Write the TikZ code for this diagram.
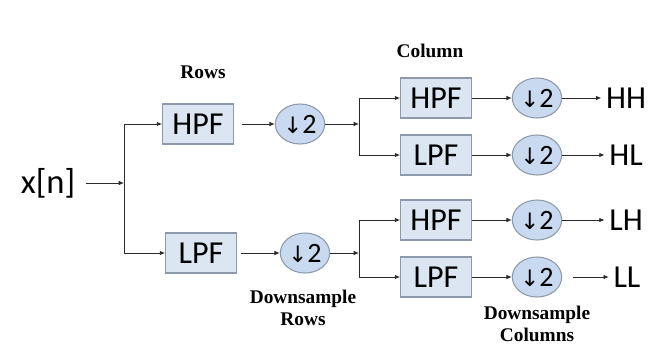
\documentclass[tikz,border=0pt]{standalone}
\usepackage{fontspec}
\setmainfont{Carlito}
\newfontfamily\lblfont{Liberation Serif}
\newfontfamily\symfont{DejaVu Sans}
\usetikzlibrary{shapes.geometric,arrows.meta}
\definecolor{boxfill}{HTML}{DCE6F2}
\definecolor{boxline}{HTML}{8C9AAB}
\definecolor{dsfill}{HTML}{C9DAF0}
\definecolor{wire}{HTML}{2A2A2A}
\newcommand{\dn}{{\symfont\fontsize{17}{17}\selectfont↓}2}
\begin{document}
\begin{tikzpicture}[x=0.75pt, y=-0.75pt, >={Latex[length=4pt,width=3.5pt]},
	filt/.style={draw=boxline, fill=boxfill, line width=0.8pt, minimum width=53pt, minimum height=30pt, inner sep=0pt, font=\fontsize{24}{24}\selectfont},
	ds/.style={ellipse, draw=boxline, fill=dsfill, line width=0.8pt, minimum width=37pt, minimum height=30pt, inner sep=0pt, font=\fontsize{21}{21}\selectfont},
	lbl/.style={font=\lblfont\bfseries\fontsize{14.5}{16}\selectfont, align=center},
	outp/.style={font=\fontsize{24}{24}\selectfont},
	wire/.style={draw=wire, line width=0.7pt}]
	
	\useasboundingbox (0,0) rectangle (649,344);
	
	% input and row filters
	\node[font=\fontsize{26}{26}\selectfont] (xn) at (48,183) {x[n]};
	\coordinate (s1) at (124,183);
	\node[filt] (rH) at (198,124) {HPF};
	\node[filt] (rL) at (201,253) {LPF};
	\node[ds] (rD1) at (300,124) {\dn};
	\node[ds] (rD2) at (305,253) {\dn};
	\node[lbl] (rows) at (203,72) {Rows};
	\node[lbl] (dsrows) at (303,308) {Downsample\\Rows};
	
	% column filters
	\coordinate (s2) at (359,124);
	\coordinate (s3) at (359,253);
	\node[filt] (cH1) at (436,98) {HPF};
	\node[filt] (cL1) at (436,155) {LPF};
	\node[filt] (cH2) at (436,220) {HPF};
	\node[filt] (cL2) at (436,277) {LPF};
	\node[ds] (cD1) at (537,98) {\dn};
	\node[ds] (cD2) at (537,155) {\dn};
	\node[ds] (cD3) at (537,220) {\dn};
	\node[ds] (cD4) at (537,277) {\dn};
	\node[lbl] (col) at (430,51) {Column};
	\node[lbl] (dscol) at (537,324) {Downsample\\Columns};
	
	% outputs
	\node[outp] (HH) at (626,98) {HH};
	\node[outp] (HL) at (626,155) {HL};
	\node[outp] (LH) at (626,220) {LH};
	\node[outp] (LL) at (627,277) {LL};
	
	% connectors
	\draw[wire, ->] (xn.east) ++(6,0) -- (s1);
	\draw[wire, ->] (s1) |- (rH.west);
	\draw[wire, ->] (s1) |- (rL.west);
	\draw[wire, ->] ([xshift=6]rH.east) -- (rD1.west);
	\draw[wire, ->] ([xshift=3]rL.east) -- (rD2.west);
	\draw[wire, ->] (rD1.east) -- (s2);
	\draw[wire, ->] (rD2.east) -- (s3);
	\draw[wire, ->] (s2) |- (cH1.west);
	\draw[wire, ->] (s2) |- (cL1.west);
	\draw[wire, ->] (s3) |- (cH2.west);
	\draw[wire, ->] (s3) |- (cL2.west);
	\foreach \f/\d in {cH1/cD1, cL1/cD2, cH2/cD3, cL2/cD4}
		\draw[wire, ->] (\f.east) -- (\d.west);
	\foreach \d/\o in {cD1/HH, cD2/HL, cD3/LH}
		\draw[wire, ->] (\d.east) -- (\o.west);
	\draw[wire, ->] ([xshift=8]cD4.east) -- (LL.west);
\end{tikzpicture}
\end{document}
